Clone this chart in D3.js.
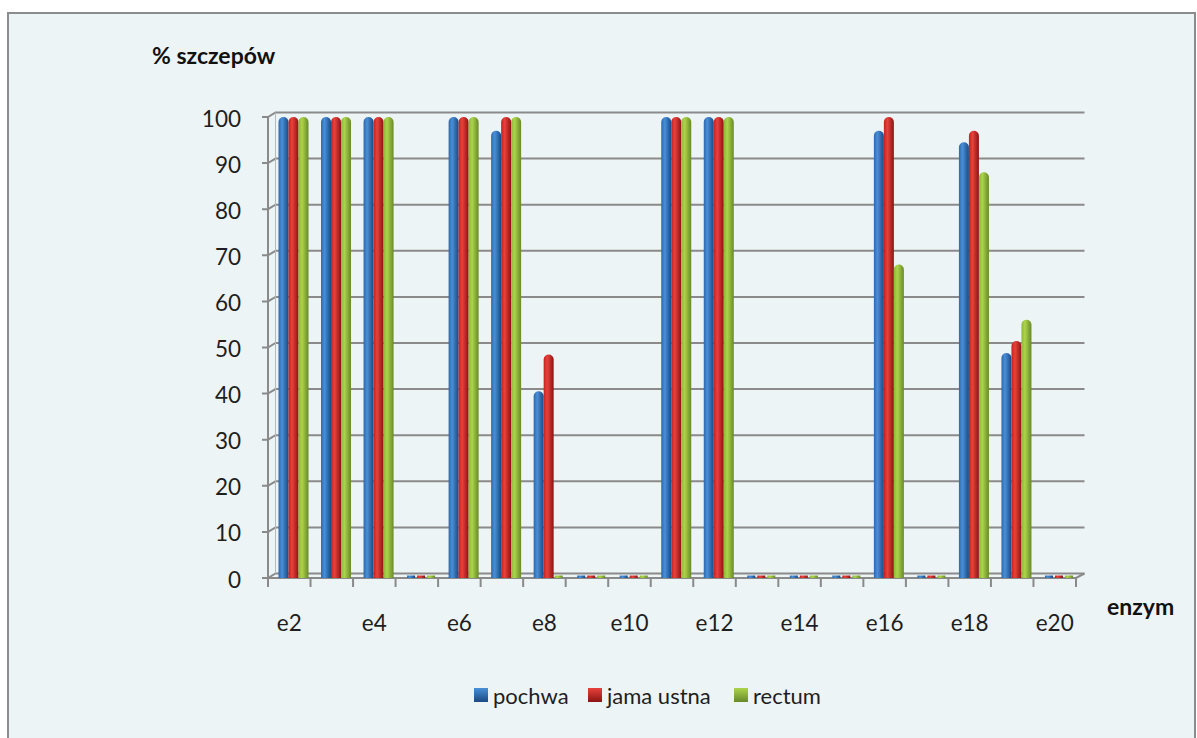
<!DOCTYPE html>
<html>
<head>
<meta charset="utf-8">
<script src="https://cdn.jsdelivr.net/npm/d3@7/dist/d3.min.js"></script>
<style>
  html, body { margin: 0; padding: 0; background: #ffffff; }
  svg { display: block; }
  text { font-family: Lato, "Open Sans", "DejaVu Sans", sans-serif; }
</style>
</head>
<body>
<svg id="chart" width="1197" height="738"></svg>
<script>
// Enzyme activity: share of strains (%) per enzyme and isolation site
const categories = ["e2","e3","e4","e5","e6","e7","e8","e9","e10","e11",
                    "e12","e13","e14","e15","e16","e17","e18","e19","e20"];
const tickLabels = ["e2","e4","e6","e8","e10","e12","e14","e16","e18","e20"];
const seriesNames = ["pochwa", "jama ustna", "rectum"];
const pochwa    = [100,100,100,0,100,97,40.5,0,0,100,100,0,0,0,97,0,94.5,48.8,0];
const jamaUstna = [100,100,100,0,100,100,48.5,0,0,100,100,0,0,0,100,0,97,51.4,0];
const rectum    = [100,100,100,0,100,100,0,0,0,100,100,0,0,0,68,0,88,56,0];
const yTicks = [0,10,20,30,40,50,60,70,80,90,100];

const seriesValues = [pochwa, jamaUstna, rectum];
const palette = [
  ["#2a69b0", "#4a8fd6", "#174a85"],
  ["#c62020", "#e8423c", "#8c1414"],
  ["#8cb83a", "#acd44a", "#67892a"]
];

const svg = d3.select("#chart");

// chart frame
svg.append("rect").attr("x", 8).attr("y", 13).attr("width", 1187).attr("height", 740)
  .attr("fill", "#edf4f5").attr("stroke", "#8c8c8c").attr("stroke-width", 2);

const x0 = 268, x1 = 1076;        // front floor edge
const depthX = 7.5, depthY = -4.5; // offset to back wall

const x = d3.scaleBand().domain(categories).range([x0, x1]).padding(0);
const y = d3.scaleLinear().domain([0, 100]).range([578, 117]);
const xs = d3.scaleBand().domain(seriesNames).range([10.5, 40.5]).padding(0);

// gradients for cylinder bars and legend keys
const defs = svg.append("defs");
palette.forEach((c, i) => {
  const g = defs.append("linearGradient").attr("id", "bar" + i)
    .attr("x1", "0%").attr("x2", "100%").attr("y1", "0%").attr("y2", "0%");
  g.append("stop").attr("offset", "0%").attr("stop-color", c[0]);
  g.append("stop").attr("offset", "35%").attr("stop-color", c[1]);
  g.append("stop").attr("offset", "100%").attr("stop-color", c[2]);
  const k = defs.append("linearGradient").attr("id", "key" + i)
    .attr("x1", "0%").attr("x2", "0%").attr("y1", "0%").attr("y2", "100%");
  k.append("stop").attr("offset", "0%").attr("stop-color", c[1]);
  k.append("stop").attr("offset", "100%").attr("stop-color", c[2]);
});

const grid = svg.append("g");
const gridColor = "#8a8a8a";

// gridlines on the back wall with slanted connectors to the front axis
yTicks.forEach(t => {
  const yf = y(t), yb = y(t) + depthY;
  grid.append("path")
    .attr("d", `M${x0 - 6},${yf} L${x0},${yf} L${x0 + depthX},${yb} L${x1 + depthX + 1},${yb}`)
    .attr("fill", "none").attr("stroke", gridColor).attr("stroke-width", 2);
});
// left wall edges
grid.append("line").attr("x1", x0).attr("x2", x0).attr("y1", y(0)).attr("y2", y(100))
  .attr("stroke", gridColor).attr("stroke-width", 2);
grid.append("line").attr("x1", x0 + depthX).attr("x2", x0 + depthX)
  .attr("y1", y(0) + depthY).attr("y2", y(100) + depthY)
  .attr("stroke", "#b5b9ba").attr("stroke-width", 1);
// floor front edge and right slant
grid.append("path")
  .attr("d", `M${x0},${y(0)} L${x1},${y(0)} L${x1 + depthX + 1},${y(0) + depthY}`)
  .attr("fill", "none").attr("stroke", gridColor).attr("stroke-width", 2);
// category ticks
d3.range(categories.length + 1).forEach(i => {
  const tx = x0 + i * x.bandwidth();
  grid.append("line").attr("x1", tx).attr("x2", tx).attr("y1", y(0)).attr("y2", y(0) + 9)
    .attr("stroke", gridColor).attr("stroke-width", 2);
});

// y tick labels
svg.append("g").selectAll("text").data(yTicks).join("text")
  .attr("x", 241).attr("y", d => y(d) + 1)
  .attr("text-anchor", "end").attr("dominant-baseline", "central")
  .attr("font-size", 22.5).attr("fill", "#1e1e1e").text(d => d);

// x tick labels, every other category
svg.append("g").selectAll("text").data(tickLabels).join("text")
  .attr("x", d => x(d) + x.bandwidth() / 2)
  .attr("y", 622).attr("text-anchor", "middle").attr("dominant-baseline", "central")
  .attr("font-size", 22.5).attr("fill", "#1e1e1e").text(d => d);

// bars: rounded-top cylinders
const bars = svg.append("g");
seriesValues.forEach((vals, si) => {
  const bw = xs.bandwidth();
  const r = bw / 2;
  vals.forEach((v, ci) => {
    const bx = x(categories[ci]) + xs(seriesNames[si]);
    if (v <= 0) {
      bars.append("rect").attr("x", bx + 1).attr("y", y(0) - 2.5)
        .attr("width", bw - 2).attr("height", 2.5)
        .attr("fill", "url(#bar" + si + ")");
      return;
    }
    const top = y(v), bottom = y(0);
    const d = `M${bx},${bottom} L${bx},${top + r} A${r},${r} 0 0 1 ${bx + bw},${top + r} L${bx + bw},${bottom} Z`;
    bars.append("path").attr("d", d).attr("fill", "url(#bar" + si + ")");
  });
});

// axis titles
svg.append("text").attr("x", 152).attr("y", 55).attr("dominant-baseline", "central")
  .attr("font-size", 23).attr("font-weight", "bold").attr("fill", "#111").text("% szczepów");
svg.append("text").attr("x", 1107).attr("y", 606).attr("dominant-baseline", "central")
  .attr("font-size", 23).attr("font-weight", "bold").attr("fill", "#111").text("enzym");

// legend
const legendX = [474, 588, 734];
const legend = svg.append("g");
seriesNames.forEach((name, i) => {
  legend.append("rect").attr("x", legendX[i]).attr("y", 688).attr("width", 14).attr("height", 14)
    .attr("fill", "url(#key" + i + ")");
  legend.append("text").attr("x", legendX[i] + 19).attr("y", 695)
    .attr("dominant-baseline", "central").attr("font-size", 22).attr("fill", "#1e1e1e").text(name);
});
</script>
</body>
</html>
